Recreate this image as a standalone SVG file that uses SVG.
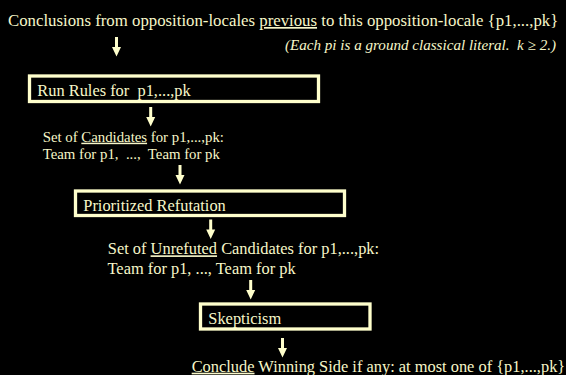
<svg xmlns="http://www.w3.org/2000/svg" xmlns:xlink="http://www.w3.org/1999/xlink" width="566" height="375" viewBox="0 0 566 375">
  <style>
    text { font-family: 'Liberation Serif', 'Times New Roman', Times, serif; fill: #F7F7C9; font-size: 16.4px; }
    .big { font-size: 16.8px; }
    .small { font-size: 14.8px; }
    .it { font-style: italic; font-size: 15.1px; }
    .u { text-decoration: underline; }
    .box { fill: none; stroke: #FFFFCC; stroke-width: 3.3; }
    .arrow { fill: #FFFFCC; }
  </style>
  <defs>
    <!-- block arrow pointing down; origin at top centre of the shaft -->
    <path id="down" d="M-1.5,0 h3 v10 h3 l-4.5,9.5 l-4.5,-9.5 h3 z"/>
  </defs>
  <rect x="0" y="0" width="566" height="375" fill="#000000"/>

  <g id="header">
    <text class="big" x="8" y="26" xml:space="preserve">Conclusions from opposition-locales <tspan class="u">previous</tspan> to this opposition-locale {p1,...,pk}</text>
  </g>
  <g id="note">
    <text class="it" x="285" y="50" xml:space="preserve">(Each pi is a ground classical literal.  k ≥ 2.)</text>
  </g>

  <g id="run-rules">
    <rect class="box" x="29.5" y="76" width="289" height="25.5"/>
    <text x="37.3" y="95.5" xml:space="preserve">Run Rules for  p1,...,pk</text>
  </g>

  <g id="candidates">
    <text class="small" x="42.7" y="141.7" xml:space="preserve">Set of <tspan class="u">Candidates</tspan> for p1,...,pk:</text>
    <text class="small" x="42.7" y="159" xml:space="preserve">Team for p1,  ...,  Team for pk</text>
  </g>

  <g id="prioritized-refutation">
    <rect class="box" x="75.5" y="191" width="269" height="24.5"/>
    <text x="83.3" y="210.7">Prioritized Refutation</text>
  </g>

  <g id="unrefuted">
    <text x="107.8" y="254.3" xml:space="preserve">Set of <tspan class="u">Unrefuted</tspan> Candidates for p1,...,pk:</text>
    <text x="107.5" y="274" xml:space="preserve">Team for p1, ..., Team for pk</text>
  </g>

  <g id="skepticism">
    <rect class="box" x="200.5" y="304" width="169.5" height="25"/>
    <text x="208.3" y="324">Skepticism</text>
  </g>

  <g id="conclusion">
    <text x="191.7" y="371.7" xml:space="preserve"><tspan class="u">Conclude</tspan> Winning Side if any: at most one of {p1,...,pk}</text>
  </g>

  <g id="connectors">
    <use class="arrow" xlink:href="#down" x="116.5" y="37"/>
    <use class="arrow" xlink:href="#down" x="150.7" y="107"/>
    <use class="arrow" xlink:href="#down" x="180" y="165"/>
    <use class="arrow" xlink:href="#down" x="210.7" y="219.5"/>
    <use class="arrow" xlink:href="#down" x="250.7" y="280"/>
    <use class="arrow" xlink:href="#down" x="282.5" y="338"/>
  </g>
</svg>
